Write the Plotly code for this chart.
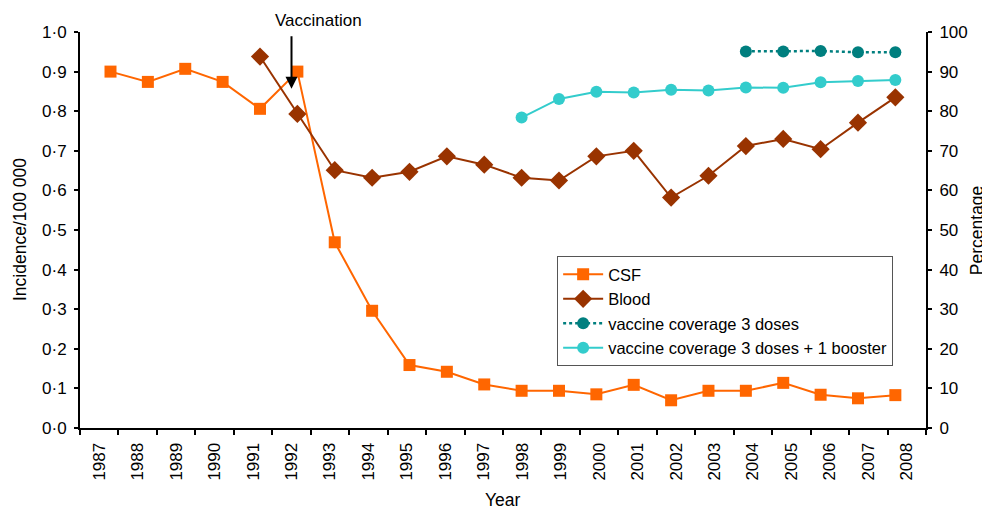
import plotly.graph_objects as go

years = list(range(1987, 2009))
csf = [0.900, 0.874, 0.907, 0.874, 0.806, 0.900, 0.469, 0.296, 0.159, 0.142, 0.110,
       0.094, 0.094, 0.085, 0.109, 0.070, 0.094, 0.094, 0.114, 0.084, 0.075, 0.083]
blood_years = list(range(1991, 2009))
blood = [0.938, 0.793, 0.651, 0.632, 0.647, 0.686, 0.665, 0.632, 0.625, 0.686, 0.700,
         0.582, 0.637, 0.712, 0.730, 0.704, 0.771, 0.835]
cov3_years = list(range(2004, 2009))
cov3 = [95.1, 95.1, 95.2, 94.9, 94.9]
booster_years = list(range(1998, 2009))
booster = [78.4, 83.1, 84.9, 84.7, 85.4, 85.2, 86.0, 85.9, 87.3, 87.6, 87.9]

left_ticks = [i / 10 for i in range(11)]
left_ticktext = [f"{v:.1f}".replace(".", "\u00b7") for v in left_ticks]
right_ticks = list(range(0, 101, 10))
boundaries = [y - 0.5 for y in years] + [years[-1] + 0.5]

FONT = "Liberation Sans, Arial, Helvetica, sans-serif"
TICKFONT = dict(size=17, color="black", family=FONT)

fig = go.Figure()
fig.add_trace(go.Scatter(x=years, y=csf, name="CSF", mode="lines+markers",
                         xaxis="x2", yaxis="y",
                         line=dict(color="#FF6600", width=2),
                         marker=dict(symbol="square", size=12, color="#FF6600")))
fig.add_trace(go.Scatter(x=blood_years, y=blood, name="Blood", mode="lines+markers",
                         xaxis="x2", yaxis="y",
                         line=dict(color="#993300", width=2),
                         marker=dict(symbol="diamond", size=14, color="#993300")))
fig.add_trace(go.Scatter(x=cov3_years, y=cov3, name="vaccine coverage 3 doses",
                         mode="lines+markers", xaxis="x2", yaxis="y2",
                         line=dict(color="#007F7F", width=2.5, dash="dot"),
                         marker=dict(symbol="circle", size=12, color="#007F7F")))
fig.add_trace(go.Scatter(x=booster_years, y=booster,
                         name="vaccine coverage 3 doses + 1 booster",
                         mode="lines+markers", xaxis="x2", yaxis="y2",
                         line=dict(color="#33CCCC", width=2),
                         marker=dict(symbol="circle", size=12, color="#33CCCC")))

# The page body has an 8px margin, so the figure is sized/offset to compensate.
fig.update_layout(
    width=982, height=501,
    margin=dict(l=72, r=64, t=24, b=81, autoexpand=False),
    paper_bgcolor="white", plot_bgcolor="white",
    font=dict(family=FONT, size=17, color="black"),
    showlegend=True,
    legend=dict(x=0.564, y=0.434, xanchor="left", yanchor="top",
                bgcolor="white", bordercolor="#555555", borderwidth=1,
                font=dict(size=16.5), tracegroupgap=0, itemwidth=40),
    xaxis=dict(range=[1986.5, 2008.5], tickvals=years, ticktext=[str(y) for y in years],
               ticks="", tickangle=-90, showgrid=False, zeroline=False,
               showline=True, linecolor="black", linewidth=2,
               ticklabelstandoff=6, tickfont=TICKFONT, automargin=False,
               minor=dict(tickvals=boundaries, ticks="outside", ticklen=5,
                          tickwidth=1.5, tickcolor="black", showgrid=False)),
    xaxis2=dict(range=[1986.184, 2008.82], overlaying="x", anchor="y",
                visible=False, automargin=False),
    xaxis3=dict(range=[1986.5, 2008.5], overlaying="x", anchor="y",
                tickvals=boundaries, ticks="inside", ticklen=4, tickwidth=1.5,
                tickcolor="black", showticklabels=False, showline=False,
                showgrid=False, zeroline=False, automargin=False),
    yaxis=dict(range=[0, 1], tickvals=left_ticks, ticktext=left_ticktext,
               ticks="outside", ticklen=4, tickwidth=1.5, tickcolor="black",
               showline=True, linecolor="black", linewidth=2, tickfont=TICKFONT,
               showgrid=False, zeroline=False, ticklabelstandoff=4, automargin=False),
    yaxis2=dict(range=[0, 100], tickvals=right_ticks, overlaying="y", side="right",
                anchor="x", ticks="outside", ticklen=4, tickwidth=1.5, tickcolor="black",
                showline=True, linecolor="black", linewidth=2, tickfont=TICKFONT,
                showgrid=False, zeroline=False, ticklabelstandoff=4, automargin=False),
    yaxis3=dict(range=[0, 1], tickvals=left_ticks, overlaying="y", side="left",
                anchor="x", ticks="inside", ticklen=4, tickwidth=1.5, tickcolor="black",
                showticklabels=False, showline=False, showgrid=False, zeroline=False,
                automargin=False),
    yaxis4=dict(range=[0, 100], tickvals=right_ticks, overlaying="y", side="right",
                anchor="x", ticks="inside", ticklen=4, tickwidth=1.5, tickcolor="black",
                showticklabels=False, showline=False, showgrid=False, zeroline=False,
                automargin=False),
)

# axis titles
fig.add_annotation(x=-0.0709, y=0.5, xref="paper", yref="paper", text="Incidence/100 000",
                   textangle=-90, showarrow=False, xanchor="center", yanchor="middle",
                   font=dict(size=17.5, color="black"))
fig.add_annotation(x=1.0605, y=0.5, xref="paper", yref="paper", text="Percentage",
                   textangle=-90, showarrow=False, xanchor="center", yanchor="middle",
                   font=dict(size=17.5, color="black"))
fig.add_annotation(x=0.5, y=-0.182, xref="paper", yref="paper", text="Year",
                   showarrow=False, xanchor="center", yanchor="middle",
                   font=dict(size=17.5, color="black"))

fig.add_annotation(x=1992, y=0.857, xref="x", yref="y", text="",
                   showarrow=True, ax=0, ay=-54, arrowhead=2, arrowsize=1.2,
                   arrowwidth=2, arrowcolor="black")
fig.add_annotation(x=1992, y=1.0303, xref="x", yref="paper", xshift=27,
                   xanchor="center", yanchor="middle",
                   text="Vaccination", showarrow=False,
                   font=dict(size=17, color="black"))

fig.write_html("out.html")
